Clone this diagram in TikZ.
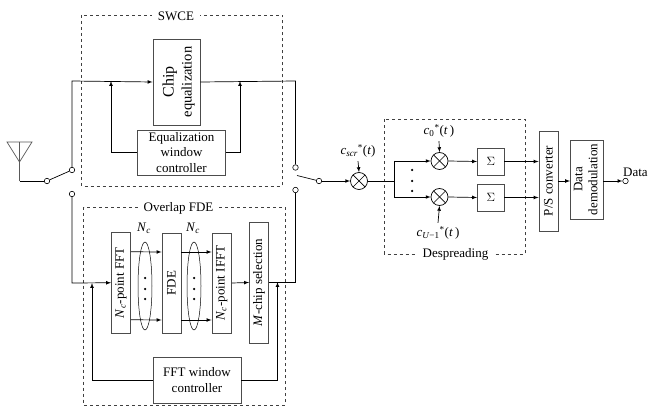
\documentclass[tikz,border=0pt]{standalone}
\usepackage{fontspec}
\setmainfont{Liberation Serif}
\usepackage{tikz}
\usetikzlibrary{positioning}

\tikzset{
    blk/.style={draw=black!70,line width=0.9pt,fill=white,inner sep=0pt,align=center},
    grp/.style={draw=black!75,dashed,line width=0.6pt},
    grplabel/.style={fill=white,inner xsep=6pt,inner ysep=1pt},
    term/.style={circle,draw=black,fill=white,line width=0.6pt,inner sep=0pt,minimum size=5.5pt},
    mixer/.style={circle,draw=black,line width=0.7pt,inner sep=0pt,minimum size=17pt},
    wire/.style={line width=0.7pt},
    thinwire/.style={line width=0.5pt},
    dotnode/.style={circle,fill=black,inner sep=0pt,minimum size=2.5pt}
}

\begin{document}
\begin{tikzpicture}[x=1pt,y=-1pt,font=\fontsize{13pt}{15pt}\selectfont]
\useasboundingbox (0,0) rectangle (648,406);

\draw[grp] (81.5,15) rectangle (282,186);
\draw[grp] (83.5,207.5) rectangle (285,405);
\draw[grp] (384,119.5) rectangle (525,254);
\node[grplabel] (swce) at (176,16) {SWCE};
\node[grplabel] (ofde) at (178.5,208.5) {Overlap FDE};
\node[grplabel] (desp) at (455.5,254) {Despreading};

\node[blk,minimum width=47pt,minimum height=86pt] (chip) at (176.5,82) {\hspace*{5pt}\rotatebox{90}{\fontsize{14.5pt}{18pt}\selectfont\begin{tabular}{@{}c@{}}{\fontsize{16pt}{18pt}\selectfont Chip}\\equalization\end{tabular}}};
\node[blk,minimum width=88.5pt,minimum height=45pt,font=\fontsize{13pt}{15.5pt}\selectfont] (eqctrl) at (181.5,152.5) {Equalization\\window\\controller};
\node[blk,minimum width=19pt,minimum height=100.5pt] (fft) at (121,282.75) {\rotatebox{90}{\textit{N}\textsubscript{\textit{c}}-point FFT}};
\node[blk,minimum width=19pt,minimum height=100pt] (fde) at (171.5,283) {\rotatebox{90}{FDE}};
\node[blk,minimum width=19.5pt,minimum height=100pt] (ifft) at (221.75,283) {\rotatebox{90}{\textit{N}\textsubscript{\textit{c}}-point IFFT}};
\node[blk,minimum width=19pt,minimum height=121pt] (msel) at (259,282.5) {\rotatebox{90}{\textit{M}-chip selection}};
\node[blk,minimum width=88pt,minimum height=46pt,font=\fontsize{13pt}{15.5pt}\selectfont] (fftctrl) at (197,380) {FFT window\\controller};
\node[blk,minimum width=26.5pt,minimum height=27pt] (sum0) at (490.75,161.5) {$\Sigma$};
\node[blk,minimum width=26.5pt,minimum height=27pt] (sum1) at (490.75,197.5) {$\Sigma$};
\node[blk,minimum width=19pt,minimum height=100pt] (ps) at (548.5,181) {\rotatebox{90}{P/S converter}};
\node[blk,minimum width=32.5pt,minimum height=79pt] (demod) at (586.75,179.5) {\rotatebox{90}{\begin{tabular}{@{}c@{}}Data\\demodulation\end{tabular}}};

\foreach \name/\x/\y in {swa/47/181, swb/72/170, swc/72/194, swd/295.5/167.5, swe/295.5/190, swf/319/181, out/625.5/181} {
    \node[term] (\name) at (\x,\y) {};
}
\foreach \name/\x/\y in {mx/359/181, mx0/439.5/161, mx1/439.5/197} {
    \node[mixer] (\name) at (\x,\y) {};
    \draw[line width=0.7pt] (\name.center) ++ (-6,-6) -- ++ (12,12);
    \draw[line width=0.7pt] (\name.center) ++ (-6,6) -- ++ (12,-12);
}

\node (cscr) at (358,151) {\textit{c}\textsubscript{\textit{scr}}\textsuperscript{*}(\textit{t})};
\node (c0) at (439,131) {\textit{c}\textsubscript{0}\textsuperscript{*}(\textit{t}\,)};
\node (cu) at (438,233) {\textit{c}\textsubscript{\textit{U}−1}\textsuperscript{*}(\textit{t}\,)};
\node (nc0) at (144,228) {\textit{N}\textsubscript{\textit{c}}};
\node (nc1) at (193,228) {\textit{N}\textsubscript{\textit{c}}};
\node[anchor=west,inner sep=0pt] (data) at (623,172) {Data};

\coordinate (antt) at (19.5,142);
\coordinate (antb) at (19.5,181);
\coordinate (inup) at (72,81);
\coordinate (indn) at (72,283);
\coordinate (outup) at (295.5,81);
\coordinate (outdn) at (295.5,282);
\coordinate (swtip) at (297,175.5);
\coordinate (spl0) at (394,161);
\coordinate (spl1) at (394,197);
\coordinate (splm) at (394,181);
\coordinate (eqin) at (111,81);
\coordinate (eqout) at (240,81);
\coordinate (ffin) at (92,283);
\coordinate (ffout) at (277.5,282);

\draw[wire,black!65] (7,142) -- (32,142) -- (19.5,162) -- cycle;
\draw[wire,black!65] (antt) -- (antb);
\draw[wire] (antb) -- (swa);
\draw[wire] (swa) -- (swb);

\draw[wire,-latex] (swb) -- (inup) -- (chip.west);
\draw[wire,-latex] (swc) -- (indn) -- (fft.west);
\draw[wire] (chip.east) -- (outup) -- (swd);
\draw[wire] (msel.east |- ffout) -- (outdn) -- (swe);
\draw[wire] (swf) -- (swtip);
\draw[wire,-latex] (swf) -- (mx);

\draw[wire,-latex] (eqctrl.west) -| (eqin);
\draw[wire,-latex] (eqctrl.east) -| (eqout);
\draw[wire,-latex] (fftctrl.west) -| (ffin);
\draw[wire,-latex] (fftctrl.east) -| (ffout);

\foreach \a/\b in {fft/fde, fde/ifft} {
    \draw[wire,-latex] ([yshift=31pt]\a.east) -- ([yshift=31pt]\b.west);
    \draw[wire,-latex] ([yshift=-37pt]\a.east) -- ([yshift=-37pt]\b.west);
}
\draw[wire,-latex] (ifft.east) -- (msel.west);

\foreach \x in {145,194} {
    \draw[thinwire] (\x,286) ellipse (7 and 44);
    \foreach \y in {278,289,299} {
        \node[dotnode] at (\x,\y) {};
    }
}
\foreach \y in {170,181,191} {
    \node[dotnode] at (412,\y) {};
}

\draw[wire,-latex] (cscr.south) -- (mx.north);
\draw[wire,-latex] (c0.south) -- (mx0.north);
\draw[wire,-latex] (cu.north) -- (mx1.south);
\draw[wire] (mx.east) -- (splm);
\draw[wire] (spl0) -- (spl1);
\draw[wire,-latex] (spl0) -- (mx0.west);
\draw[wire,-latex] (spl1) -- (mx1.west);
\draw[wire,-latex] (mx0.east) -- (sum0.west);
\draw[wire,-latex] (mx1.east) -- (sum1.west);
\draw[wire,-latex] (sum0.east) -- (ps.west |- sum0.east);
\draw[wire,-latex] (sum1.east) -- (ps.west |- sum1.east);
\draw[wire,-latex] (ps.east) -- (demod.west |- ps.east);
\draw[wire,-latex] (demod.east |- out) -- (out);
\end{tikzpicture}
\end{document}
